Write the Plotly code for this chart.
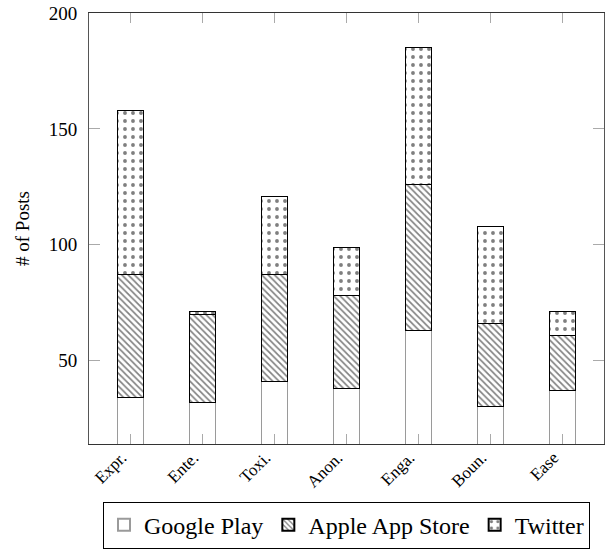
import plotly.graph_objects as go

categories = ["Expr.", "Ente.", "Toxi.", "Anon.", "Enga.", "Boun.", "Ease"]
google_play = [34, 32, 41, 38, 63, 30, 37]
apple_app_store = [53, 38, 46, 40, 63, 36, 24]
twitter = [71, 1, 34, 21, 59, 42, 10]
y_ticks = [50, 100, 150, 200]

SERIF = "Liberation Serif"
BAR_W = 0.37

fig = go.Figure()
fig.add_trace(go.Bar(
    x=categories, y=google_play, name="Google Play", width=BAR_W,
    marker=dict(color="white", line=dict(color="#9a9a9a", width=1)),
))
fig.add_trace(go.Bar(
    x=categories, y=apple_app_store, name="Apple App Store", width=BAR_W,
    marker=dict(color="white", line=dict(color="black", width=1),
                pattern=dict(shape="\\", fgcolor="black", bgcolor="white",
                             size=4.5, solidity=0.36)),
))
fig.add_trace(go.Bar(
    x=categories, y=twitter, name="Twitter", width=BAR_W,
    marker=dict(color="white", line=dict(color="black", width=1),
                pattern=dict(shape=".", fgcolor="black", bgcolor="white",
                             size=8, solidity=0.18)),
))

fig.update_layout(
    width=607, height=550,
    barmode="stack",
    plot_bgcolor="white", paper_bgcolor="white",
    margin=dict(l=89, r=3, t=13, b=106, autoexpand=False),
    font=dict(family=SERIF, color="black"),
    showlegend=True,
    legend=dict(
        orientation="h", x=0.5, xanchor="center", y=-0.134, yanchor="top",
        bordercolor="black", borderwidth=1,
        font=dict(family=SERIF, size=24, color="black"),
        traceorder="normal", itemsizing="constant",
    ),
    xaxis=dict(
        range=[-0.575, 6.575],
        showline=True, linecolor="#333", linewidth=1, mirror="allticks",
        ticks="inside", ticklen=10, tickcolor="#aaaaaa", tickwidth=1,
        tickangle=-45, tickfont=dict(family=SERIF, size=17),
        ticklabelshift=-9, ticklabelstandoff=-4,
        showgrid=False, layer="above traces",
    ),
    yaxis=dict(
        range=[14, 200],
        tickvals=y_ticks,
        showline=True, linecolor="#555", linewidth=1, mirror="allticks",
        ticks="inside", ticklen=11, tickcolor="#aaaaaa", tickwidth=1,
        tickfont=dict(family=SERIF, size=19), ticklabelstandoff=7,
        showgrid=False, zeroline=False,
        title=dict(text="# of Posts", font=dict(family=SERIF, size=19), standoff=14),
    ),
)

fig.write_html("out.html", config={"displayModeBar": False},
               post_script="document.body.style.margin='0';")
